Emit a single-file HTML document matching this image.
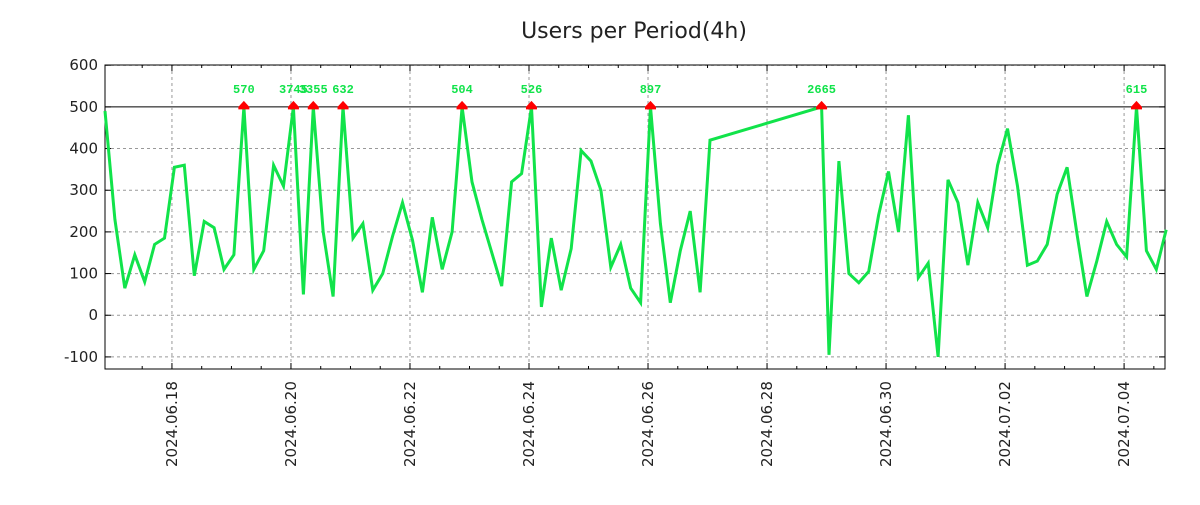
<!DOCTYPE html>
<html><head><meta charset="utf-8"><style>
body{margin:0;background:#fff;width:1200px;height:500px;overflow:hidden}
svg text{font-family:"DejaVu Sans","Liberation Sans",sans-serif}
</style></head><body>
<svg id="c" width="1200" height="500"></svg>
<script>
const hours=[-27,-23,-19,-15,-11,-7,-3,1,5,9,13,17,21,25,29,33,37,41,45,49,53,57,61,65,69,73,77,81,85,89,93,97,101,105,109,113,117,121,125,129,133,137,141,145,149,153,157,161,165,169,173,177,181,185,189,193,197,201,205,209,213,217,262,265,269,273,277,281,285,289,293,297,301,305,309,313,317,321,325,329,333,337,341,345,349,353,357,361,365,369,373,377,381,385,389,393,397,401];
const users=[490,230,65,145,80,170,185,355,360,95,225,210,110,145,570,110,155,360,310,3745,50,3355,200,45,632,185,220,60,100,190,270,180,55,235,110,200,504,320,230,150,70,320,340,526,20,185,60,160,395,370,300,115,170,65,30,897,220,30,155,250,55,420,2665,-95,370,100,78,105,240,345,200,480,90,125,-100,325,270,120,270,210,360,448,310,120,130,170,290,355,195,45,130,225,170,140,615,155,110,205];
const yTicks=[-100,0,100,200,300,400,500,600];
const xTickLabels=["2024.06.18","2024.06.20","2024.06.22","2024.06.24","2024.06.26","2024.06.28","2024.06.30","2024.07.02","2024.07.04"];
const cap=500;
const L=105,R=1165,T=65,B=369,hMin=-27,hMax=400.5,yMin=-129,yMax=600.5;
const X=h=>L+(h-hMin)/(hMax-hMin)*(R-L);
const Y=v=>B-(v-yMin)/(yMax-yMin)*(B-T);
const svg=document.getElementById('c');const NS='http://www.w3.org/2000/svg';
function mk(t,a,p){const e=document.createElementNS(NS,t);for(const k in a)e.setAttribute(k,a[k]);(p||svg).appendChild(e);return e;}
let e=mk('text',{x:634,y:38,'text-anchor':'middle','font-size':22,fill:'#222'});e.textContent='Users per Period(4h)';


yTicks.forEach(v=>{const y=Y(v);
 const g=mk('line',{x1:L,x2:R,y1:y,y2:y,stroke:v===cap?'#000':'#999','stroke-dasharray':v===cap?'':'3,3','stroke-width':1});
 
 
 mk('line',{x1:L,x2:L+6,y1:y,y2:y,stroke:'#000'});mk('line',{x1:R,x2:R-6,y1:y,y2:y,stroke:'#000'});
 const t=mk('text',{x:98,y:y+5,'text-anchor':'end','font-size':15,fill:'#222'});t.textContent=v;
 
 
});
for(let h=-12;h<=hMax;h+=12){const x=X(h);if(x<L)continue;
 const major=(h%48===0);
 if(major){const g=mk('line',{x1:x,x2:x,y1:T,y2:B,stroke:'#999','stroke-dasharray':'3,3'});
  
  }
 const len=major?6:3;
 mk('line',{x1:x,x2:x,y1:B,y2:B-len,stroke:'#000'});mk('line',{x1:x,x2:x,y1:T,y2:T+len,stroke:'#000'});
}
xTickLabels.forEach((s,i)=>{const x=X(i*48);
 const t=mk('text',{x:0,y:0,transform:`translate(${x+5},${B+98}) rotate(-90)`,'font-size':15,fill:'#222'});t.textContent=s;
 
 
});
const fr=mk('rect',{x:L,y:T,width:R-L,height:B-T,fill:'none',stroke:'#000'});


const pts=hours.map((h,i)=>X(h).toFixed(1)+','+Y(Math.min(users[i],cap)).toFixed(1)).join(' ');
const ln=mk('polyline',{points:pts,fill:'none',stroke:'#11e34a','stroke-width':3,'stroke-linejoin':'miter'});


hours.forEach((h,i)=>{if(users[i]<=cap)return;const x=X(h),y=Y(cap);
 const m=mk('polygon',{points:`${x-5.5},${y+2.5} ${x+5.5},${y+2.5} ${x+5.5},${y} ${x},${y-6} ${x-5.5},${y}`,fill:'#f00'});
 
 
 const t=mk('text',{x:x,y:y-14,'text-anchor':'middle','font-size':12,'font-weight':'bold',fill:'#11e34a',style:'font-family:"Liberation Mono",monospace'});t.textContent=users[i];
 
 
});
</script>
</body></html>
